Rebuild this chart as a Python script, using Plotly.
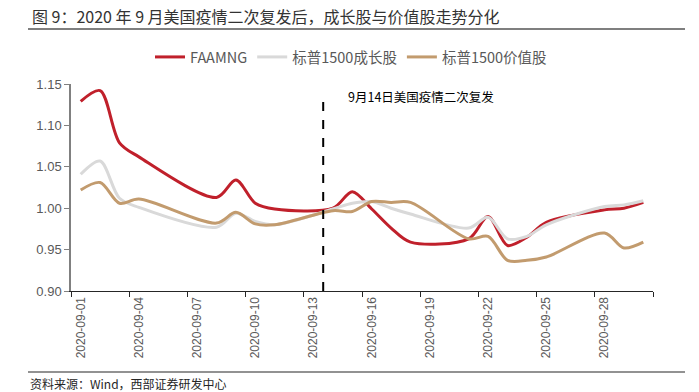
import plotly.graph_objects as go
import pandas as pd

# ---------------- data ----------------
dates = ["2020-09-01", "2020-09-02", "2020-09-03", "2020-09-04",
         "2020-09-08", "2020-09-09", "2020-09-10", "2020-09-11",
         "2020-09-14", "2020-09-15", "2020-09-16", "2020-09-17", "2020-09-18",
         "2020-09-21", "2020-09-22", "2020-09-23", "2020-09-24", "2020-09-25",
         "2020-09-28", "2020-09-29", "2020-09-30"]
faamng = [1.129, 1.142, 1.079, 1.062,
          1.013, 1.034, 1.006, 0.999,
          1.000, 1.020, 0.999, 0.976, 0.959,
          0.963, 0.990, 0.955, 0.965, 0.983,
          0.998, 1.000, 1.007]
growth = [1.041, 1.057, 1.012, 1.001,
          0.977, 0.994, 0.984, 0.980,
          0.999, 1.006, 1.008, 1.000, 0.993,
          0.976, 0.989, 0.963, 0.966, 0.980,
          1.002, 1.004, 1.009]
value = [1.022, 1.031, 1.006, 1.011,
         0.982, 0.995, 0.981, 0.980,
         0.997, 0.996, 1.008, 1.007, 1.007,
         0.963, 0.966, 0.937, 0.937, 0.941,
         0.970, 0.952, 0.959]
series_names = ["FAAMNG", "标普1500成长股", "标普1500价值股"]
series_colors = ["#C0202B", "#D9D9D9", "#C29B6E"]
tick_labels = ["2020-09-01", "2020-09-04", "2020-09-07", "2020-09-10", "2020-09-13",
               "2020-09-16", "2020-09-19", "2020-09-22", "2020-09-25", "2020-09-28"]
event_date = "2020-09-13 12:00"
event_text = "9月14日美国疫情二次复发"
title_text = "图 9：2020 年 9 月美国疫情二次复发后，成长股与价值股走势分化"
source_text = "资料来源：Wind，西部证券研发中心"

# ---------------- layout geometry ----------------
W, H = 699, 392
L, R, T, B = 71, 46, 84, 101
PW, PH = W - L - R, H - T - B


def px_x(px):
    return (px - L) / PW


def px_y(py):
    return (H - B - py) / PH


x_start = pd.Timestamp("2020-08-31 12:00")
x_end = pd.Timestamp("2020-09-30 12:00")
boundaries = [d.strftime("%Y-%m-%d %H:%M") for d in pd.date_range(x_start, x_end, freq="3D")]

fig = go.Figure()
for name, ys, col in zip(series_names, [faamng, growth, value], series_colors):
    fig.add_trace(go.Scatter(
        x=dates, y=ys, name=name, mode="lines",
        line=dict(color=col, width=3, shape="spline", smoothing=0.9),
    ))

fig.update_layout(
    width=W, height=H,
    margin=dict(l=L, r=R, t=T, b=B, autoexpand=False),
    paper_bgcolor="white", plot_bgcolor="white",
    font=dict(family="Noto Sans CJK SC, Liberation Sans, sans-serif", color="#595959"),
    showlegend=True,
    legend=dict(orientation="h", x=px_x(150), y=px_y(57), xanchor="left", yanchor="middle",
                font=dict(family="Liberation Sans Narrow, Noto Sans CJK SC, sans-serif",
                          size=14.5, color="#595959"),
                bgcolor="rgba(0,0,0,0)", itemwidth=30, tracegroupgap=0),
    xaxis=dict(
        type="date", range=[x_start, x_end], automargin=False,
        tickmode="array", tickvals=tick_labels, ticktext=tick_labels,
        tickangle=-90, ticks="outside", ticklen=0,
        tickfont=dict(family="Liberation Sans Narrow, Liberation Sans, sans-serif", size=12, color="#595959"),
        showline=True, linecolor="#262626", linewidth=1.3,
        showgrid=False, zeroline=False,
        minor=dict(tickmode="array", tickvals=boundaries, ticks="outside", ticklen=5,
                   tickcolor="#262626", tickwidth=1, showgrid=False),
    ),
    yaxis=dict(
        range=[0.90, 1.15], tickmode="linear", tick0=0.90, dtick=0.05, tickformat=".2f",
        ticks="outside", ticklen=5, tickcolor="#808080", automargin=False,
        tickfont=dict(family="Liberation Sans, sans-serif", size=13, color="#595959"),
        showline=True, linecolor="#808080", linewidth=1.5,
        showgrid=False, zeroline=False,
    ),
)

# event dashed line
fig.add_shape(type="line", xref="x", yref="y", x0=event_date, x1=event_date,
              y0=0.90, y1=1.138, line=dict(color="black", width=2, dash="dash"))
fig.add_annotation(xref="paper", yref="paper", x=px_x(346), y=px_y(96),
                   xanchor="left", yanchor="middle", showarrow=False,
                   text=event_text, font=dict(size=12.5, color="black"))

# title, rules, source
fig.add_annotation(xref="paper", yref="paper", x=px_x(30), y=px_y(16),
                   xanchor="left", yanchor="middle", showarrow=False,
                   text=title_text, font=dict(size=16, color="#333333"))


def rule(py, color, width):
    fig.add_shape(type="line", xref="paper", yref="paper", layer="above",
                  x0=px_x(28), x1=px_x(685), y0=px_y(py), y1=px_y(py),
                  line=dict(color=color, width=width))


rule(29, "#7F7F7F", 2.2)
rule(372, "#262626", 1.1)
fig.add_annotation(xref="paper", yref="paper", x=px_x(28), y=px_y(383),
                   xanchor="left", yanchor="middle", showarrow=False,
                   text=source_text, font=dict(size=12, color="#262626"))

fig.write_html("out.html", config={"displayModeBar": False},
               post_script="document.body.style.margin='0px';")
